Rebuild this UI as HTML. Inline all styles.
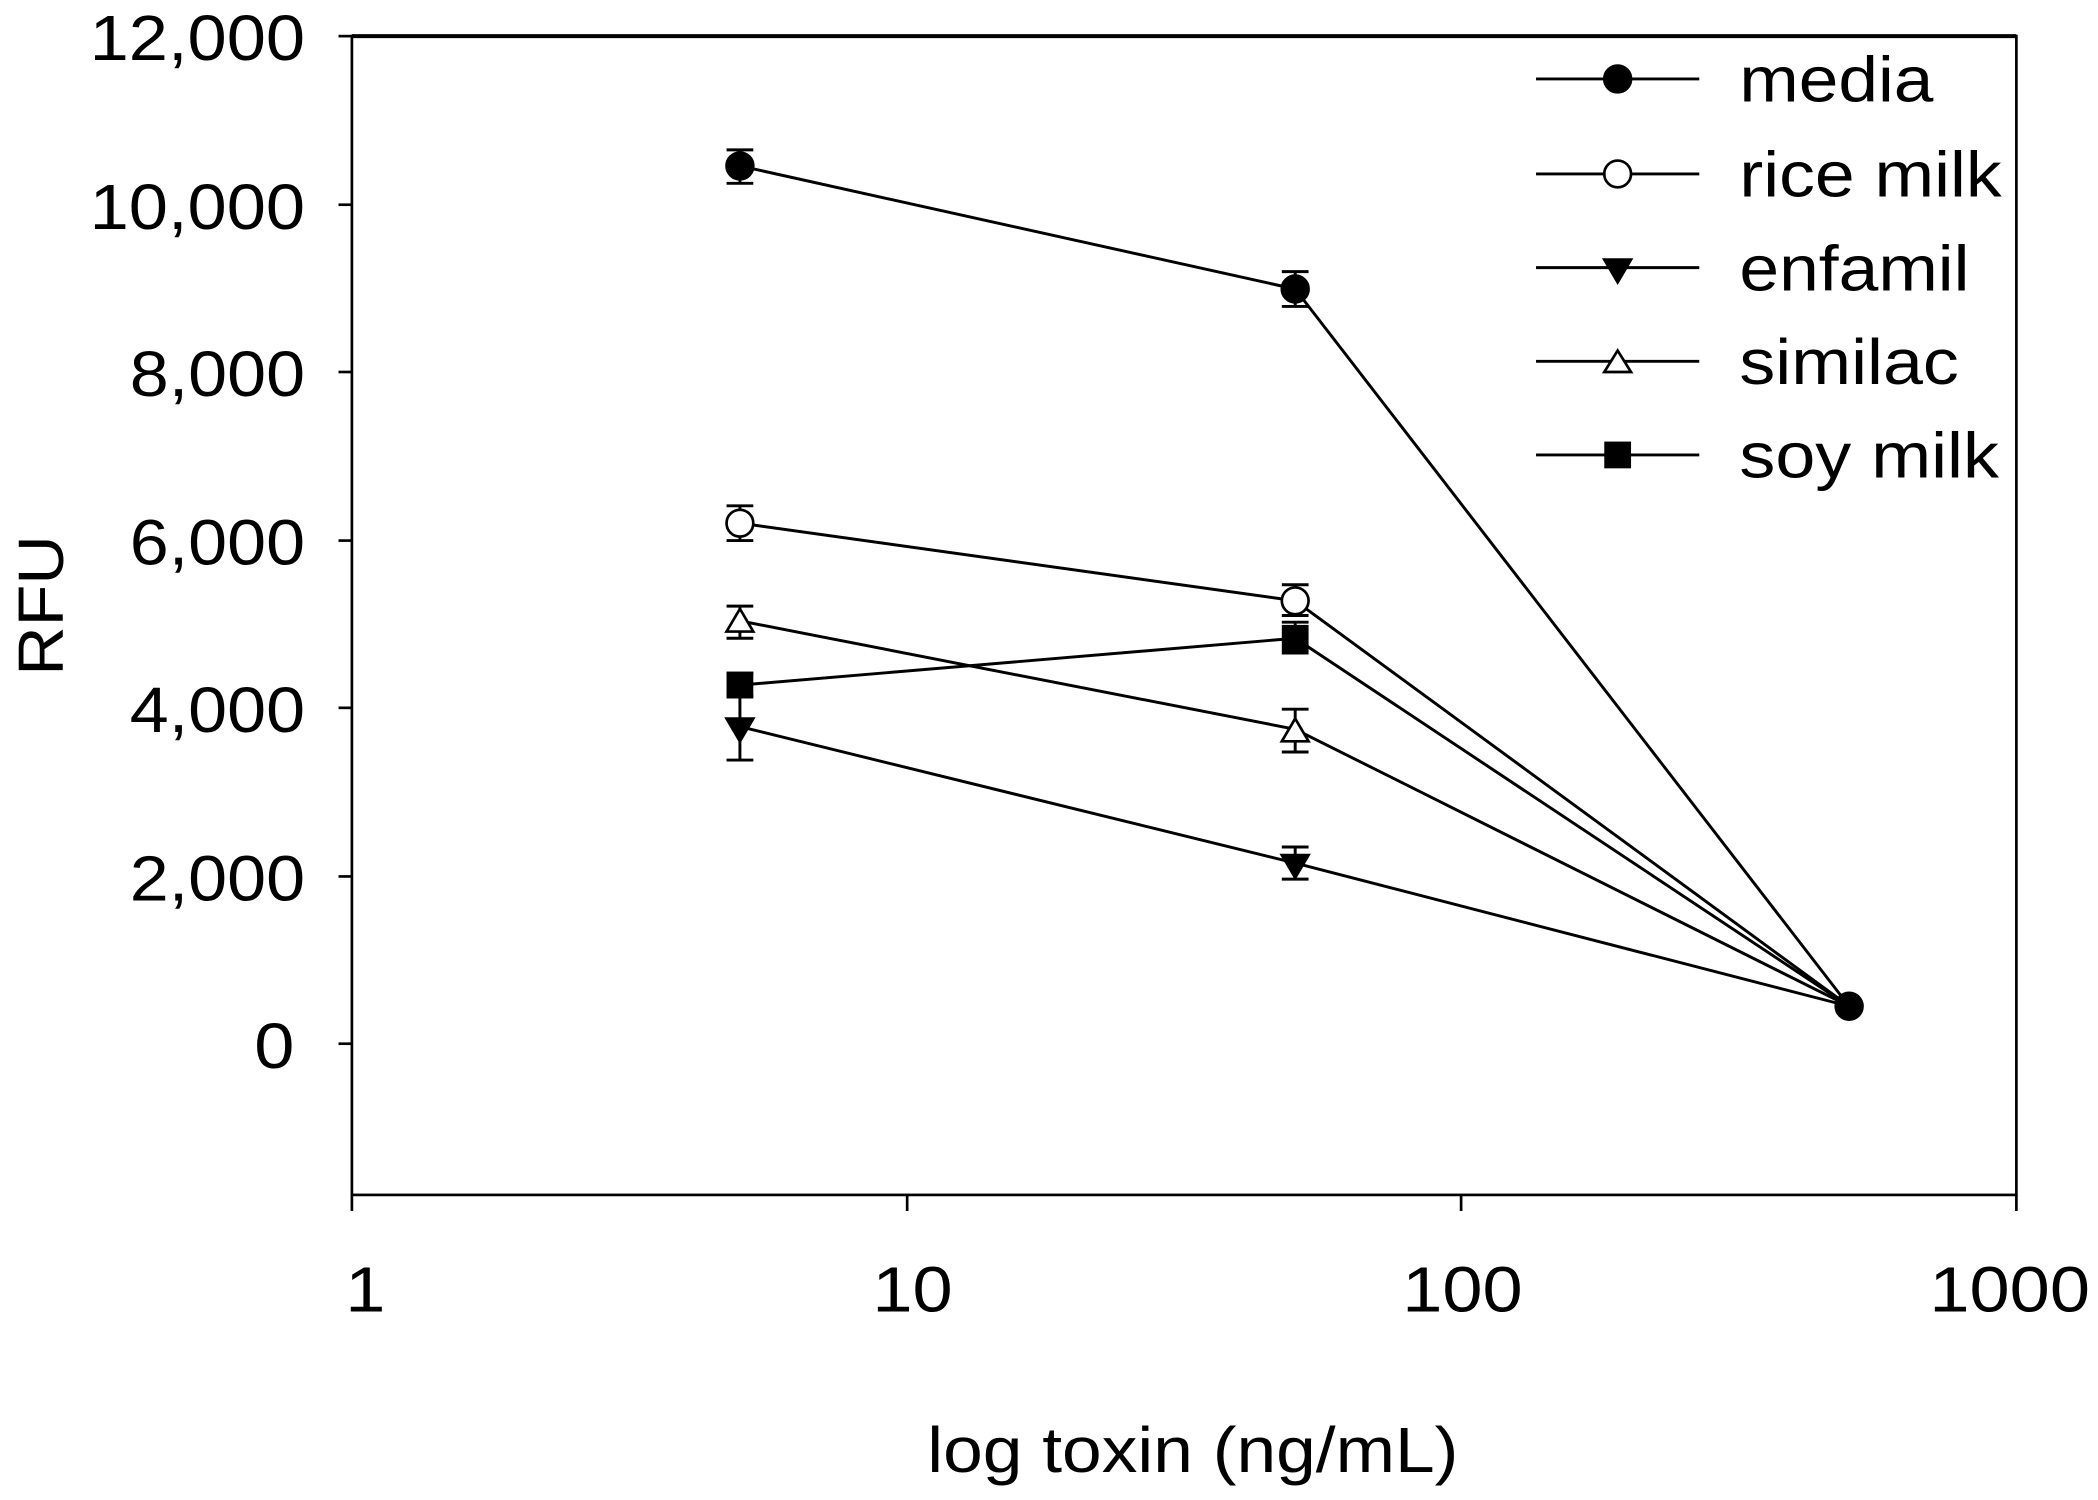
<!DOCTYPE html>
<html><head><style>html,body{margin:0;padding:0;background:#fff}svg{display:block}</style></head>
<body>
<svg width="2098" height="1500" viewBox="0 0 1568 1121" preserveAspectRatio="none" xmlns="http://www.w3.org/2000/svg" font-family="Liberation Sans, Arial, sans-serif">
<rect width="1568" height="1121" fill="#fff"/>
<g stroke="#000" stroke-width="2" fill="none">
<rect x="263" y="27" width="1244" height="866"/>
<line x1="263" y1="27" x2="1507" y2="27" stroke-width="3"/>
<line x1="253" y1="27" x2="263" y2="27"/><line x1="253" y1="153" x2="263" y2="153"/><line x1="253" y1="278" x2="263" y2="278"/><line x1="253" y1="404" x2="263" y2="404"/><line x1="253" y1="529" x2="263" y2="529"/><line x1="253" y1="655" x2="263" y2="655"/><line x1="253" y1="780" x2="263" y2="780"/>
<line x1="263" y1="893" x2="263" y2="905"/><line x1="678" y1="893" x2="678" y2="905"/><line x1="1092" y1="893" x2="1092" y2="905"/><line x1="1507" y1="893" x2="1507" y2="905"/>
</g>
<g font-size="48" fill="#000" lengthAdjust="spacingAndGlyphs">
<text x="67" y="45" textLength="161" lengthAdjust="spacingAndGlyphs">12,000</text>
<text x="67" y="171" textLength="161" lengthAdjust="spacingAndGlyphs">10,000</text>
<text x="97" y="296" textLength="131" lengthAdjust="spacingAndGlyphs">8,000</text>
<text x="97" y="422" textLength="131" lengthAdjust="spacingAndGlyphs">6,000</text>
<text x="97" y="547" textLength="131" lengthAdjust="spacingAndGlyphs">4,000</text>
<text x="97" y="673" textLength="131" lengthAdjust="spacingAndGlyphs">2,000</text>
<text x="190" y="798" textLength="30" lengthAdjust="spacingAndGlyphs">0</text>
<text x="258" y="980" textLength="30" lengthAdjust="spacingAndGlyphs">1</text>
<text x="652" y="980" textLength="60" lengthAdjust="spacingAndGlyphs">10</text>
<text x="1048" y="980" textLength="90" lengthAdjust="spacingAndGlyphs">100</text>
<text x="1442" y="980" textLength="120" lengthAdjust="spacingAndGlyphs">1000</text>
<text x="693" y="1100" textLength="397" lengthAdjust="spacingAndGlyphs">log toxin (ng/mL)</text>
<text transform="translate(47,505) rotate(-90)" textLength="105" lengthAdjust="spacingAndGlyphs">RFU</text>
<text x="1300" y="76" textLength="145" lengthAdjust="spacingAndGlyphs">media</text>
<text x="1300" y="147" textLength="196" lengthAdjust="spacingAndGlyphs">rice milk</text>
<text x="1300" y="217" textLength="172" lengthAdjust="spacingAndGlyphs">enfamil</text>
<text x="1300" y="287" textLength="164" lengthAdjust="spacingAndGlyphs">similac</text>
<text x="1300" y="357" textLength="194" lengthAdjust="spacingAndGlyphs">soy milk</text>
</g>
<g stroke="#000" stroke-width="2.2" fill="none">
<polyline points="553,124 968,216 1382,752"/>
<polyline points="553,391 968,449 1382,752"/>
<polyline points="553,543 968,645 1382,752"/>
<polyline points="553,464 968,545 1382,752"/>
<polyline points="553,512 968,477 1382,752"/>
<path d="M553,112V137M543,112H563M543,137H563"/>
<path d="M968,203V229M958,203H978M958,229H978"/>
<path d="M553,378V404M543,378H563M543,404H563"/>
<path d="M968,437V460M958,437H978M958,460H978"/>
<path d="M553,522V568M543,568H563"/>
<path d="M968,633V657M958,633H978M958,657H978"/>
<path d="M553,453V477M543,453H563M543,477H563"/>
<path d="M968,530V562M958,530H978M958,562H978"/>
<path d="M553,503V520M543,503H563M543,520H563"/>
<path d="M968,465V488M958,465H978M958,488H978"/>
<line x1="1148" y1="59" x2="1270" y2="59"/><line x1="1148" y1="130" x2="1270" y2="130"/><line x1="1148" y1="200" x2="1270" y2="200"/><line x1="1148" y1="270" x2="1270" y2="270"/><line x1="1148" y1="340" x2="1270" y2="340"/>
</g>
<g stroke="#000" stroke-width="2">
<circle cx="553" cy="124" r="10" fill="#000"/><circle cx="968" cy="216" r="10" fill="#000"/>
<circle cx="553" cy="391" r="10" fill="#fff"/><circle cx="968" cy="449" r="10" fill="#fff"/>
<path d="M543,537H563L553,554Z" fill="#000"/><path d="M958,639H978L968,656Z" fill="#000"/>
<path d="M553,455L563,472H543Z" fill="#fff"/><path d="M968,537L978,554H958Z" fill="#fff"/>
<rect x="544" y="503" width="18" height="18" fill="#000"/><rect x="959" y="468" width="18" height="18" fill="#000"/>
<circle cx="1382" cy="752" r="10" fill="#000"/>
<circle cx="1209" cy="59" r="10" fill="#000"/>
<circle cx="1209" cy="130" r="10" fill="#fff"/>
<path d="M1199,194H1219L1209,211Z" fill="#000"/>
<path d="M1209,262L1219,278H1199Z" fill="#fff"/>
<rect x="1200" y="331" width="18" height="18" fill="#000"/>
</g>
</svg>
</body></html>
